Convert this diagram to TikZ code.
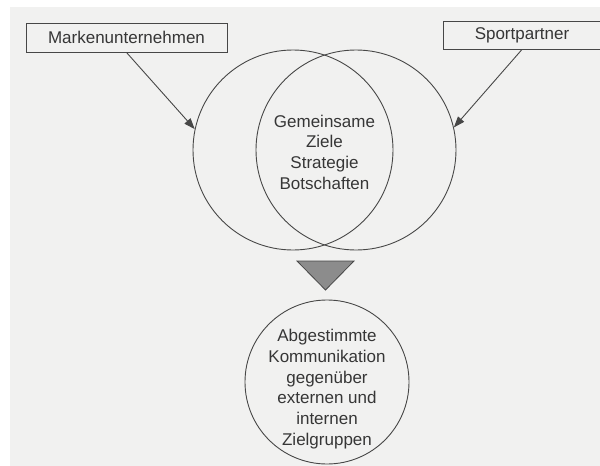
\documentclass[tikz,border=0pt]{standalone}
\usepackage{fontspec}
\setmainfont{Liberation Sans}
\usetikzlibrary{arrows.meta}

\definecolor{papier}{HTML}{F1F1F0}
\definecolor{strich}{HTML}{474747}
\definecolor{schrift}{HTML}{363636}
\definecolor{dreieck}{HTML}{8C8C8C}

\tikzset{
  kasten/.style={draw=strich, line width=0.9pt, inner sep=0pt, text=schrift},
  kreis/.style={draw=strich, line width=0.9pt, circle, inner sep=0pt},
  beschriftung/.style={align=center, text=schrift, inner sep=0pt},
  pfeil/.style={draw=strich, line width=0.9pt, -{Triangle[length=11pt,width=8pt]}}
}

\begin{document}
\begin{tikzpicture}[x=1pt,y=-1pt,font=\fontsize{17}{20.7}\selectfont]

% Seitenränder
\useasboundingbox (0,0) rectangle (600,466);
\fill[white] (0,0) rectangle (600,466);
\fill[papier] (10,7) rectangle (600,466);

% ------------------- Partner -------------------
\node[kasten, minimum width=201pt, minimum height=29pt] (marke) at (126.5,37.5) {Markenunternehmen};
\node[kasten, minimum width=158pt, minimum height=28pt] (sport) at (522,35) {Sportpartner};

% ------------------- Schnittmenge -------------------
\node[kreis, minimum size=200pt] (lkreis) at (293,150) {};
\node[kreis, minimum size=200pt] (rkreis) at (356,150) {};
\node[beschriftung] (ziele) at (324.5,152) {Gemeinsame\\Ziele\\Strategie\\Botschaften};

% Pfeile
\draw[pfeil] (marke.south) -- (lkreis.168.5);
\draw[pfeil] (sport.south) -- (rkreis.13);

% Dreieck
\draw[strich, line width=0.8pt, fill=dreieck] (297,261) -- (354,261) -- (325.5,290) -- cycle;

% ------------------- Ergebnis -------------------
\node[kreis, minimum size=164pt] (komm) at (327,382) {};
\node[beschriftung] (kommtext) at (327,389) {Abgestimmte\\Kommunikation\\gegenüber\\externen und\\internen\\Zielgruppen};

\end{tikzpicture}
\end{document}
